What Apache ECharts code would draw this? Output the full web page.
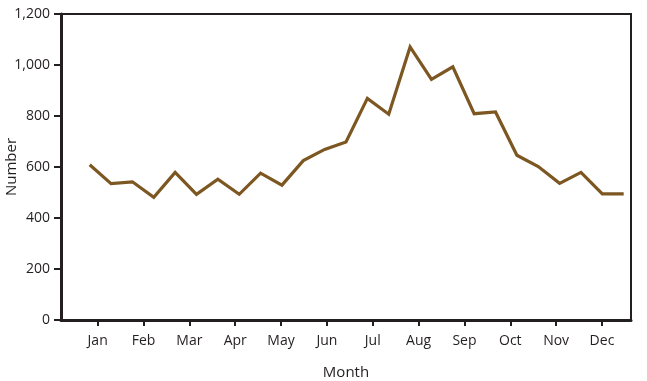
<!DOCTYPE html>
<html>
<head>
<meta charset="utf-8">
<script src="https://cdn.jsdelivr.net/npm/echarts@6/dist/echarts.min.js"></script>
<style>
html,body{margin:0;padding:0;background:#fff;}
#chart{width:647px;height:381px;}
</style>
</head>
<body>
<div id="chart"></div>
<script>
// Month tick labels (ticks at month positions 1..12)
const months = ['Jan','Feb','Mar','Apr','May','Jun','Jul','Aug','Sep','Oct','Nov','Dec'];
// 26 biweekly periods
const periods = Array.from({length: 26}, (_, i) => i + 1);
const counts = [609, 535, 542, 481, 579, 493, 552, 493, 576, 529, 625, 669, 698,
                869, 807, 1071, 944, 993, 809, 816, 646, 602, 536, 579, 495, 495];
const yTicks = [0, 200, 400, 600, 800, 1000, 1200];

// period placement on the month scale
const firstPos = 0.826;
const stepPos = 0.4659;

const ink = '#231f20';
const font = 'Open Sans';

const chart = echarts.init(document.getElementById('chart'));
chart.setOption({
  animation: false,
  backgroundColor: '#fff',
  grid: {
    left: 61, right: 16, top: 14, bottom: 61,
    containLabel: false,
    outerBoundsMode: 'none',
    show: true, borderColor: ink, borderWidth: 2, backgroundColor: 'transparent'
  },
  xAxis: {
    type: 'value',
    min: 0.2,
    max: 12.633,
    name: 'Month',
    nameLocation: 'middle',
    nameGap: 45,
    nameMoveOverlap: false,
    nameTextStyle: { color: ink, fontSize: 15, fontFamily: font },
    axisLine: { show: true, lineStyle: { color: ink, width: 3 } },
    axisTick: {
      show: true, length: 6, inside: false,
      customValues: months.map((m, i) => i + 1),
      lineStyle: { color: ink, width: 2 }
    },
    axisLabel: {
      customValues: months.map((m, i) => i + 1),
      formatter: v => months[Math.round(v) - 1] || '',
      color: ink, fontSize: 14, fontFamily: font, margin: 14
    },
    splitLine: { show: false }
  },
  yAxis: {
    type: 'value',
    min: yTicks[0],
    max: yTicks[yTicks.length - 1],
    interval: 200,
    name: 'Number',
    nameLocation: 'middle',
    nameGap: 42,
    nameMoveOverlap: false,
    nameTextStyle: { color: ink, fontSize: 15, fontFamily: font },
    axisLine: { show: true, lineStyle: { color: ink, width: 3 } },
    axisTick: { show: true, length: 7, lineStyle: { color: ink, width: 2 } },
    axisLabel: {
      formatter: v => v.toLocaleString('en-US'),
      color: ink, fontSize: 14, fontFamily: font, margin: 11
    },
    splitLine: { show: false }
  },
  series: [{
    type: 'line',
    data: counts.map((v, i) => [firstPos + stepPos * (periods[i] - 1), v]),
    showSymbol: false,
    symbol: 'none',
    lineStyle: { color: '#7d5722', width: 3.2, join: 'miter' },
    z: 3
  }]
});
</script>
</body>
</html>
